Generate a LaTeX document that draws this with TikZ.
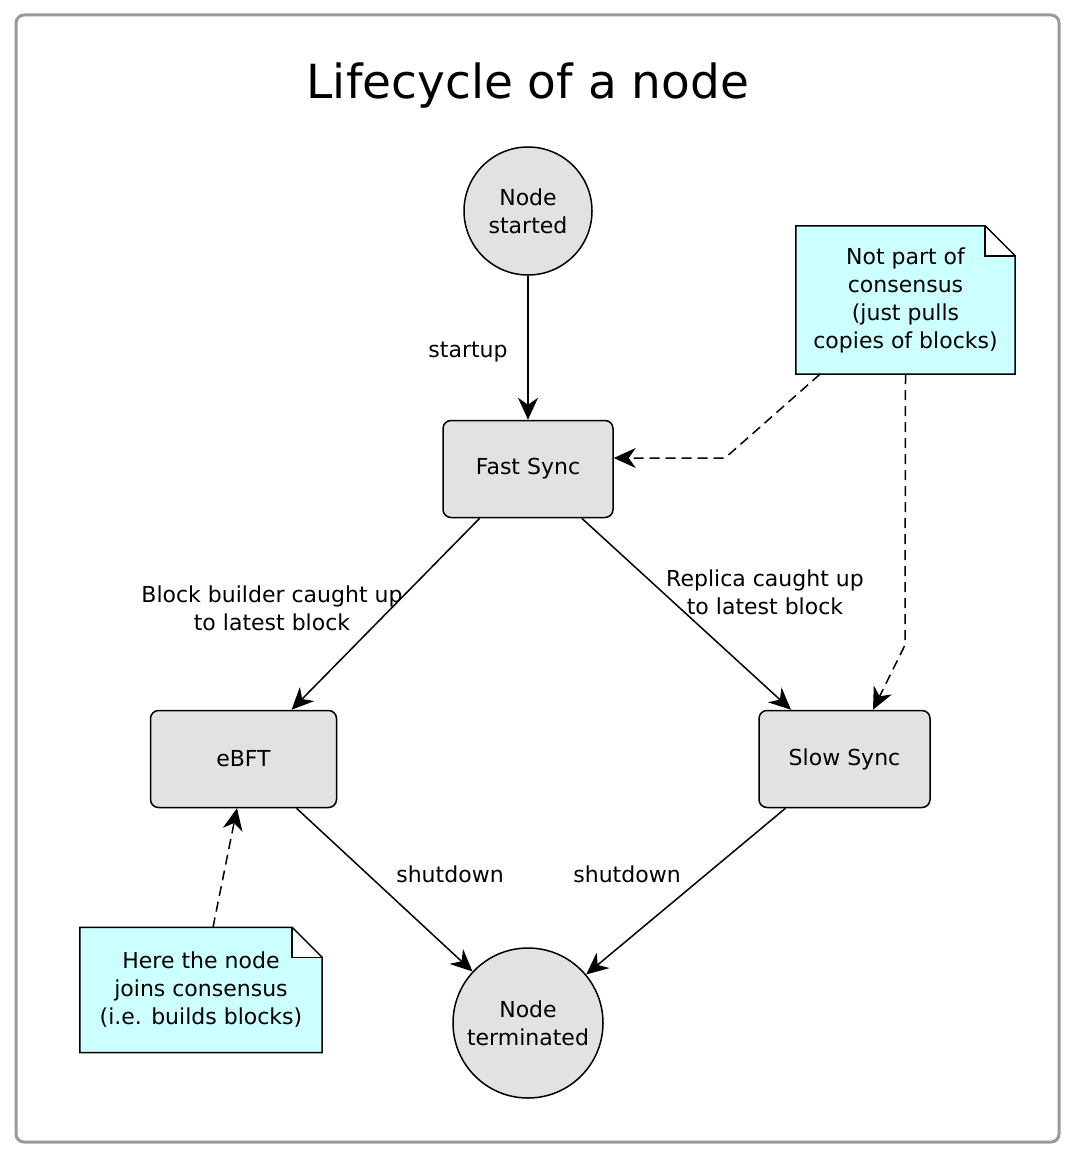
\documentclass[tikz,border=0pt]{standalone}
\usepackage{fontspec}
\setmainfont{DejaVu Sans}
\usetikzlibrary{arrows.meta}
\definecolor{statefill}{RGB}{226,226,226}
\definecolor{notefill}{RGB}{204,255,255}
\definecolor{framegray}{RGB}{153,153,153}

\begin{document}
\begin{tikzpicture}[
  x=1pt, y=-1pt,
  every node/.style={font=\fontsize{22}{28}\selectfont, align=center},
  state/.style={draw=black, line width=1.5pt, fill=statefill, rounded corners=8pt, minimum height=97pt},
  endpoint/.style={draw=black, line width=1.5pt, fill=statefill, circle, inner sep=0pt},
  notebox/.style={fill=notefill, inner sep=0pt},
  trans/.style={draw, line width=1.5pt, -{Stealth[length=22pt, width=20pt, inset=7pt]}},
  noteline/.style={trans, dash pattern=on 10pt off 6pt}
  ]

\useasboundingbox (0,0) rectangle (1076,1158);
\draw[framegray, line width=3pt, rounded corners=8pt] (16,15) rectangle (1059,1142);

% title
\node (title) at (528,86) {\fontsize{47}{56}\selectfont Lifecycle of a node};

% states
\node[endpoint, minimum size=128pt] (started) at (528,211) {Node\\started};
\node[state, minimum width=170pt] (fast) at (528,469) {Fast Sync};
\node[state, minimum width=186pt] (ebft) at (243.5,759) {eBFT};
\node[state, minimum width=171pt] (slow) at (844.5,759) {Slow Sync};
\node[endpoint, minimum size=150pt] (terminated) at (528,1023) {Node\\terminated};

% notes
\node[notebox, minimum width=219pt, minimum height=148pt] (replnote) at (905.5,300)
  {Not part of\\consensus\\(just pulls\\copies of blocks)};
\node[notebox, minimum width=242pt, minimum height=125pt] (bbnote) at (201,990)
  {Here the node\\joins consensus\\(i.e. builds blocks)};
\foreach \n in {replnote, bbnote} {
  \fill[white] ([xshift=-30pt]\n.north east) rectangle ([yshift=-30pt]\n.north east);
  \draw[line width=1.5pt] (\n.north west) -- ([xshift=-30pt]\n.north east)
    -- ([yshift=-30pt]\n.north east) -- (\n.south east) -- (\n.south west) -- cycle;
  \draw[line width=1.5pt] ([xshift=-30pt]\n.north east)
    -- ([xshift=-30pt, yshift=-30pt]\n.north east) -- ([yshift=-30pt]\n.north east);
}

% transitions
\draw[trans] (started) -- (fast);
\draw[trans] (fast) -- (ebft);
\draw[trans] (fast) -- (slow);
\draw[trans] (ebft) -- (terminated);
\draw[trans] (slow) -- (terminated);

% note links
\coordinate (bendfast) at (725,458);
\coordinate (bendslow) at (905,645);
\draw[noteline] ([xshift=-85.5pt]replnote.south) -- (bendfast) -- (bendfast -| fast.east);
\draw[noteline] (replnote.south) -- (bendslow) -- ([xshift=28.5pt]slow.north);
\draw[noteline] ([xshift=12pt]bbnote.north) -- ([xshift=-6.5pt]ebft.south);

% labels
\node (startuplbl) at (468,352) {startup};
\node (bblbl) at (272,608) {Block builder caught up\\to latest block};
\node (repllbl) at (765,592) {Replica caught up\\to latest block};
\node (shutleft) at (450,874) {shutdown};
\node (shutright) at (627,874) {shutdown};
\end{tikzpicture}
\end{document}
